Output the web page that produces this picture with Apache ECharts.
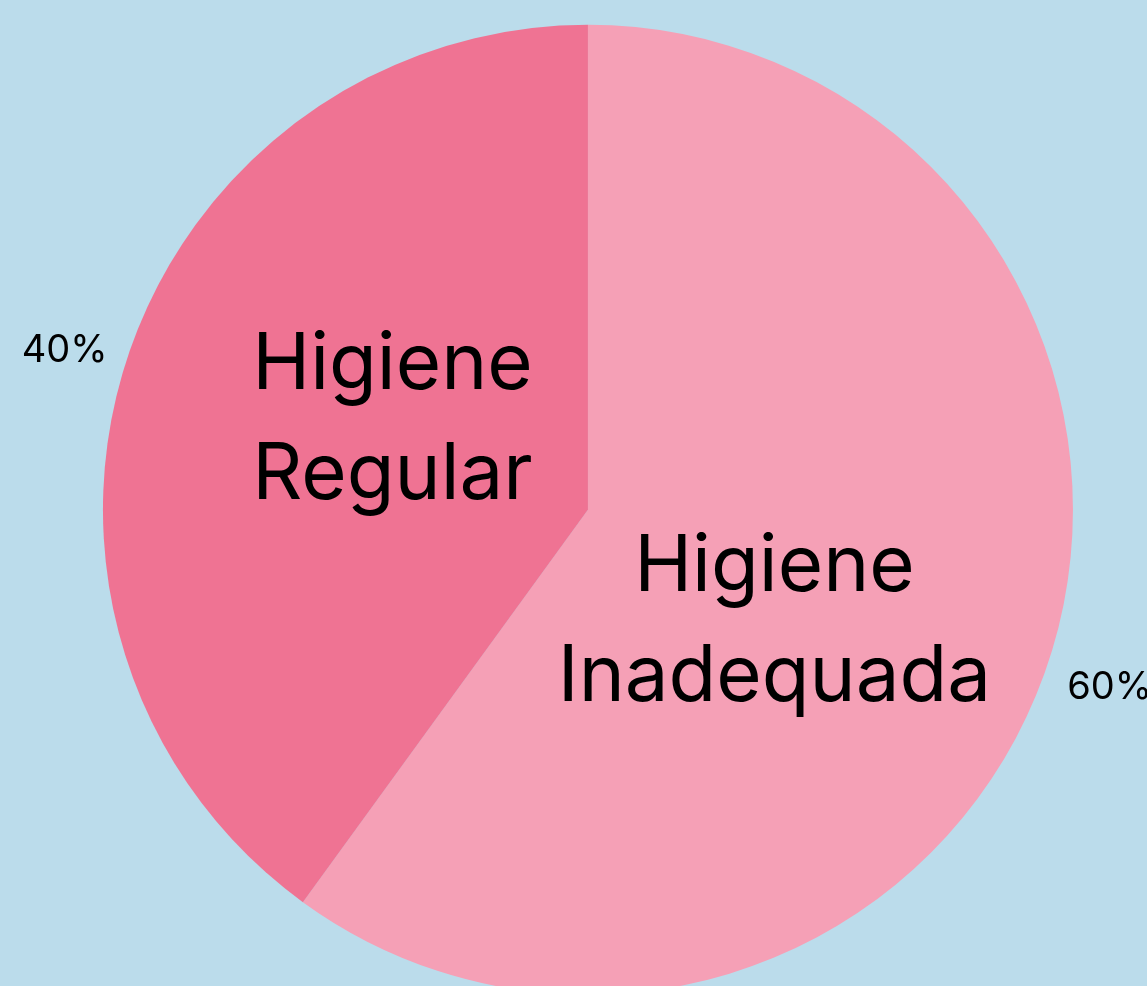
<!DOCTYPE html>
<html>
<head>
<meta charset="utf-8">
<script src="https://cdn.jsdelivr.net/npm/echarts@6/dist/echarts.min.js"></script>
<style>
html,body{margin:0;padding:0;background:#BBDCEB;}
#main{width:1147px;height:986px;}
</style>
</head>
<body>
<div id="main"></div>
<script>
const categories = ['Higiene\nInadequada', 'Higiene\nRegular'];
const values = [60, 40];
const colors = ['#F5A0B6', '#EF7393'];
const insideOffsets = [[-47, 37], [38, -13]];
const outsideOffsets = [[-25, 16], [24, 3]];

const chart = echarts.init(document.getElementById('main'));
const data = categories.map((c, i) => ({ name: c, value: values[i], itemStyle: { color: colors[i] } }));
chart.setOption({
  backgroundColor: '#BBDCEB',
  animation: false,
  series: [
    {
      type: 'pie',
      center: ['51.26%', '51.7%'],
      radius: [0, 485],
      startAngle: 90,
      clockwise: true,
      silent: true,
      data: data,
      label: {
        show: true,
        position: 'inside',
        formatter: '{b}',
        color: '#000',
        fontFamily: 'Inter',
        fontSize: 78,
        lineHeight: 110,
        align: 'center'
      },
      labelLine: { show: false },
      labelLayout: function (p) {
        return { dx: insideOffsets[p.dataIndex][0], dy: insideOffsets[p.dataIndex][1] };
      }
    },
    {
      type: 'pie',
      center: ['51.26%', '51.7%'],
      radius: [0, 485],
      startAngle: 90,
      clockwise: true,
      silent: true,
      data: data.map(d => ({ name: d.name, value: d.value, itemStyle: { color: 'transparent' } })),
      label: {
        show: true,
        position: 'outside',
        formatter: '{d}%',
        color: '#000',
        fontFamily: 'Inter',
        fontSize: 38,
        overflow: 'none',
        width: 200
      },
      labelLine: { show: false, length: 40, length2: 0 },
      labelLayout: function (p) {
        return { dx: outsideOffsets[p.dataIndex][0], dy: outsideOffsets[p.dataIndex][1] };
      }
    }
  ]
});
</script>
</body>
</html>
